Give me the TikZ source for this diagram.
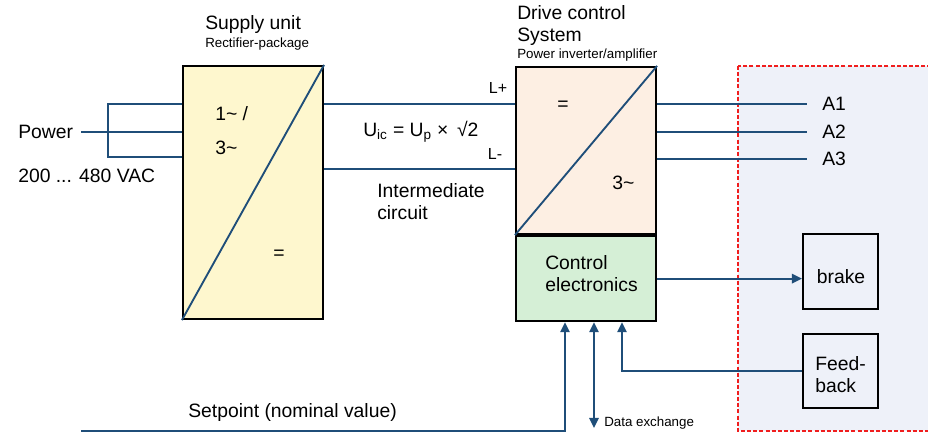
\documentclass[tikz,border=0pt]{standalone}
\usepackage{fontspec}
\setmainfont{Liberation Sans}
\usetikzlibrary{arrows.meta,positioning}
\definecolor{wireblue}{HTML}{1F4E79}
\definecolor{supplyfill}{HTML}{FEF7CE}
\definecolor{drivefill}{HTML}{FDEFE3}
\definecolor{ctrlfill}{HTML}{D5EFD6}
\definecolor{motorfill}{HTML}{EEF1F9}
\definecolor{dashred}{HTML}{F01E1E}

\begin{document}
\begin{tikzpicture}[
  x=0.75pt, y=-0.75pt,
  >={Triangle[length=7.5pt,width=7pt]},
  box/.style={draw, line width=1.6pt, inner sep=0pt},
  wire/.style={draw=wireblue, line width=1.4pt},
  lbl/.style={font=\fontsize{14.5}{16.5}\selectfont, inner sep=0pt, align=left},
  sublbl/.style={font=\fontsize{10}{12}\selectfont, inner sep=0pt}
]
\clip (0,0) rectangle (928,434);

% motor side
\draw[dashred, dashed, dash pattern=on 3pt off 1.6pt, line width=1.1pt, fill=motorfill] (738,66) rectangle (945,431);

% main blocks
\node[box, fill=supplyfill, minimum width=105pt, minimum height=189.75pt] (supply) at (253,192.5) {};
\node[box, fill=drivefill, minimum width=105pt, minimum height=125.25pt] (drive) at (586,150.5) {};
\node[box, fill=ctrlfill, minimum width=105pt, minimum height=63.75pt, below=0pt of drive] (control) {};
\node[box, minimum width=56.25pt, minimum height=56.25pt] (brake) at (840.5,271.5) {};
\node[box, minimum width=56.25pt, minimum height=55.5pt, below=17.25pt of brake] (feedback) {};

\draw[wire] (supply.south west) -- (supply.north east);
\draw[wire] (drive.south west) -- (drive.north east);

% mains input
\node[lbl, anchor=west] (power) at (18,132) {Power};
\node[lbl, anchor=west] (vac) at (18,176) {200 ... 480 VAC};
\coordinate (b1) at (108,104);
\coordinate (b2) at (108,157);
\draw[wire] ([xshift=6pt]power.east) -- (power.east -| supply.west);
\draw[wire] (supply.west |- b1) -- (b1) -- (b2) -- (supply.west |- b2);

% intermediate circuit
\coordinate (lp) at (420,104);
\coordinate (lm) at (420,169);
\draw[wire] (supply.east |- lp) -- (drive.west |- lp);
\draw[wire] (supply.east |- lm) -- (drive.west |- lm);
\node[sublbl, font=\fontsize{12}{14}\selectfont] (lplus) at (498,88) {L+};
\node[sublbl, font=\fontsize{12}{14}\selectfont] (lminus) at (495,154) {L-};
\node[lbl, anchor=west] (uic) at (363,132) {U\textsubscript{ic} = U\textsubscript{p} × \,√2};
\node[lbl, anchor=west] (ic) at (377,202) {Intermediate\\circuit};

% outputs
\node[lbl, anchor=west] (a1) at (822,104) {A1};
\node[lbl, anchor=west] (a2) at (822,132) {A2};
\node[lbl, anchor=west] (a3) at (822,159) {A3};
\foreach \p in {a1,a2,a3}
  \draw[wire] (drive.east |- \p.west) -- ([xshift=-11.25pt]\p.west);

% control signals
\coordinate (sp) at (81,431);
\coordinate (dx) at (594,428);
\draw[wire,->] (control.east) -- (control.east -| brake.west);
\draw[wire,->] (feedback.west) -| ([xshift=27pt]control.south);
\draw[wire,->] (sp) -| ([xshift=-15.75pt]control.south);
\draw[wire,<->] (dx) -- (dx |- control.south);

% texts
\node[lbl, anchor=west] (suptitle) at (205,25) {Supply unit};
\node[sublbl, anchor=west] (supsub) at (205,44) {Rectifier-package};
\node[lbl, anchor=west] (drvtitle) at (517,26) {Drive control\\System};
\node[sublbl, anchor=west] (drvsub) at (517,55) {Power inverter/amplifier};
\node[lbl, anchor=west] (supin) at (215,114) {1\textasciitilde{} /};
\node[lbl, anchor=west] (supin3) at (215,148) {3\textasciitilde};
\node[lbl] (supout) at (279,255) {=};
\node[lbl] (drvin) at (563,106) {=};
\node[lbl, anchor=west] (drvout) at (612,183) {3\textasciitilde};
\node[lbl, anchor=west] (ctrltext) at (545,274) {Control\\electronics};
\node[lbl] (braketext) at (841,277) {brake};
\node[lbl, anchor=west] (fbtext) at (815,374.5) {Feed-\\back};
\node[sublbl, anchor=west] (dxtext) at (604,423) {Data exchange};
\node[lbl, anchor=west] (sptext) at (188,413) {Setpoint (nominal value)};
\end{tikzpicture}
\end{document}
